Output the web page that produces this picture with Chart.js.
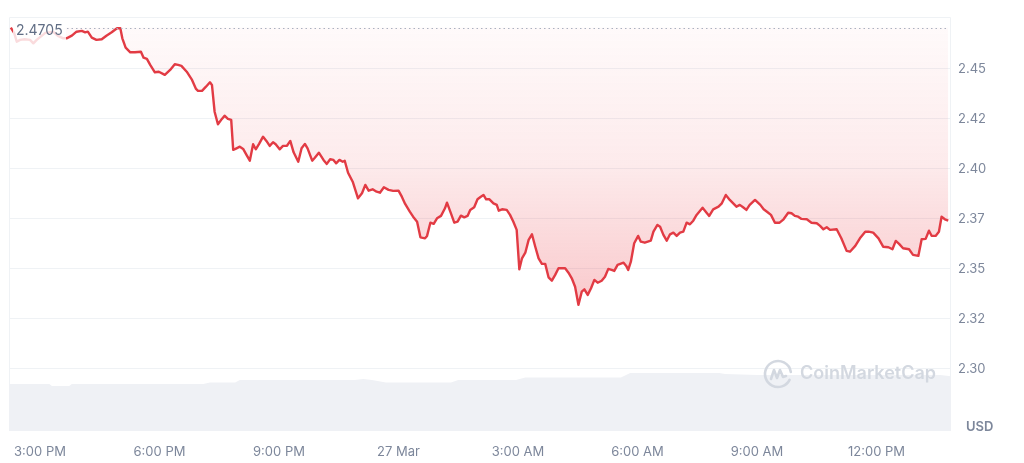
<!DOCTYPE html>
<html>
<head>
<meta charset="utf-8">
<script src="https://cdn.jsdelivr.net/npm/chart.js@4.4.1/dist/chart.umd.min.js"></script>
<style>
  html, body { margin: 0; padding: 0; background: #ffffff; }
  #wrap { width: 1024px; height: 463px; }
</style>
</head>
<body>
<div id="wrap"><canvas id="priceChart" width="1024" height="463"></canvas></div>
<script>
// time is minutes after 3:00 PM on 26 Mar
const priceMinutes = [
    -44, -39, -35, -30, -23, -15, -10, -5, 8, 20, 27, 35, 40,
    48, 55, 63, 68, 72, 78, 85, 93, 100, 108, 116, 121, 124, 129, 136, 143, 152, 156, 161, 166, 173, 179, 188, 196, 203,
    208, 213, 221, 229, 235, 238, 244, 250, 256, 259, 263, 268, 274, 278, 283, 288, 291, 296, 301, 306, 311, 316, 321, 325,
    330, 336, 341, 346, 351, 355, 361, 366, 372, 377, 382, 389, 394, 399, 403, 410, 414, 420, 427, 432, 437, 442,
    446, 451, 456, 459, 464, 471, 479, 485, 490, 495, 501, 507, 512, 518, 525, 532, 540, 545, 550, 557, 562, 568, 573,
    580, 583, 588, 593, 598, 604, 610, 613, 619, 624, 629, 634, 639, 644, 648, 654, 659, 664, 668, 672, 677, 683, 688,
    691, 696, 703, 708, 713, 718, 722, 726, 731, 736, 741, 746, 751, 756, 761, 766, 771, 776, 781, 786, 791, 796, 801,
    806, 811, 816, 820, 825, 830, 835, 840, 846, 851, 856, 861, 865, 870, 879, 883, 886, 890, 895, 901, 905, 911, 920,
    924, 930, 934,
    939, 944, 949, 954, 959, 964, 969, 974, 979, 984, 989, 998, 1004, 1008, 1014, 1022, 1027, 1033, 1039, 1049, 1054,
    1059, 1064, 1069, 1077, 1085, 1090, 1095, 1101, 1107, 1114, 1120, 1127, 1132, 1137, 1142, 1147, 1155,
    1162, 1170, 1175, 1180, 1185, 1190, 1200, 1207, 1215, 1220, 1228, 1235, 1243, 1248, 1255, 1263, 1270, 1278, 1284,
    1289, 1294, 1300, 1309, 1315, 1323, 1328, 1334, 1339, 1343, 1349, 1354, 1358, 1363, 1368
];
const priceValues = [
    2.4705, 2.4679, 2.4635, 2.4644, 2.4647, 2.4644, 2.4627, 2.4644, 2.4679, 2.4684, 2.4664, 2.4652, 2.4652,
    2.4665, 2.4685, 2.4689, 2.4682, 2.4685, 2.4655, 2.4644, 2.4647, 2.4665, 2.4682, 2.4702, 2.4702, 2.4652, 2.4605, 2.4582,
    2.4582, 2.4585, 2.4555, 2.4549, 2.4519, 2.4482, 2.4485, 2.4469, 2.4494, 2.4522,
    2.4519, 2.4514, 2.4485, 2.4444, 2.4399, 2.4389, 2.4389, 2.4410, 2.4432, 2.4419, 2.4285, 2.4222, 2.4249, 2.4265,
    2.4249, 2.4244, 2.4094, 2.4102, 2.4110, 2.4099, 2.4069, 2.4040, 2.4122, 2.4097, 2.4124, 2.4160, 2.4139, 2.4114,
    2.4132, 2.4122, 2.4097, 2.4114, 2.4115, 2.4139, 2.4082, 2.4035, 2.4102, 2.4124, 2.4102, 2.4040, 2.4055, 2.4080,
    2.4044, 2.4024, 2.4047, 2.4044,
    2.4027, 2.4044, 2.4035, 2.4040, 2.3980, 2.3935, 2.3852, 2.3877, 2.3919, 2.3890, 2.3897, 2.3885, 2.3880, 2.3907,
    2.3894, 2.3889, 2.3890, 2.3860, 2.3824, 2.3785, 2.3760, 2.3735, 2.3657, 2.3652, 2.3664, 2.3730, 2.3724, 2.3752,
    2.3764, 2.3802, 2.3830, 2.3777, 2.3730, 2.3735, 2.3765, 2.3757, 2.3764, 2.3794, 2.3807, 2.3847, 2.3860, 2.3869,
    2.3847, 2.3847, 2.3827, 2.3819,
    2.3790, 2.3797, 2.3794, 2.3769, 2.3735, 2.3694, 2.3497, 2.3552, 2.3580, 2.3644, 2.3672, 2.3610, 2.3552, 2.3524,
    2.3524, 2.3457, 2.3440, 2.3469, 2.3502, 2.3502, 2.3502, 2.3480, 2.3452, 2.3410, 2.3319, 2.3385, 2.3397, 2.3369,
    2.3402, 2.3444, 2.3430, 2.3440, 2.3460, 2.3499, 2.3494, 2.3489, 2.3519, 2.3530, 2.3514, 2.3494, 2.3535, 2.3627,
    2.3664, 2.3635, 2.3630, 2.3640, 2.3685, 2.3719, 2.3710,
    2.3669, 2.3640, 2.3672, 2.3680, 2.3664, 2.3680, 2.3685, 2.3730, 2.3722, 2.3740, 2.3769, 2.3805, 2.3780, 2.3764,
    2.3797, 2.3810, 2.3827, 2.3869, 2.3844, 2.3810, 2.3819, 2.3807, 2.3794, 2.3819, 2.3844, 2.3819, 2.3797, 2.3785,
    2.3769, 2.3730, 2.3730, 2.3747, 2.3780, 2.3777, 2.3764, 2.3760, 2.3749, 2.3747,
    2.3730, 2.3727, 2.3714, 2.3697, 2.3707, 2.3694, 2.3697, 2.3652, 2.3589, 2.3585, 2.3614, 2.3652, 2.3685, 2.3685,
    2.3680, 2.3652, 2.3610, 2.3607, 2.3597, 2.3639, 2.3624, 2.3602, 2.3597, 2.3569, 2.3564, 2.3647, 2.3649, 2.3690,
    2.3665, 2.3664, 2.3685, 2.3760, 2.3747, 2.3740
];

// volume (relative units) for the grey band at the bottom
const volumeMinutes = [-47, 14, 18, 44, 48, 246, 256, 294, 301, 474, 487, 500, 521, 619, 630, 717, 731, 875, 889, 1023, 1032, 1081, 1356, 1373];
const volumeValues = [56.8, 56.8, 54.3, 54.3, 56.8, 56.8, 58.7, 58.7, 61.6, 61.6, 62.8, 61.6, 58.7, 58.7, 61.6, 61.6, 64.7, 64.7, 70.0, 70.0, 68.8, 67.6, 67.6, 65.9];

const openPrice = 2.4705;
const xTickMinutes = [0, 180, 360, 540, 720, 900, 1080, 1260];
const xTickLabels = ['3:00 PM', '6:00 PM', '9:00 PM', '27 Mar', '3:00 AM', '6:00 AM', '9:00 AM', '12:00 PM'];
const yTickValues = [2.30, 2.325, 2.35, 2.375, 2.40, 2.425, 2.45];
const yTickLabels = ['2.30', '2.32', '2.35', '2.37', '2.40', '2.42', '2.45'];

const FONT = 'Inter, "Noto Sans", sans-serif';
const priceData = priceMinutes.map((m, i) => ({ x: m, y: priceValues[i] }));
const volumeData = volumeMinutes.map((m, i) => ({ x: m, y: volumeValues[i] }));

function redGradient(context) {
    const area = context.chart.chartArea;
    if (!area) return 'rgba(234,57,67,0.1)';
    const g = context.chart.ctx.createLinearGradient(0, area.top, 0, 310);
    g.addColorStop(0, 'rgba(234,57,67,0.02)');
    g.addColorStop(0.5, 'rgba(234,57,67,0.10)');
    g.addColorStop(1, 'rgba(234,57,67,0.28)');
    return g;
}

// border, open price line + label, watermark, currency
const extras = {
    id: 'extras',
    beforeDatasetsDraw(chart) {
        const { ctx, chartArea: a } = chart;
        ctx.save();
        ctx.strokeStyle = '#eff2f5';
        ctx.lineWidth = 1;
        ctx.beginPath();
        ctx.moveTo(a.left + 0.5, a.bottom);
        ctx.lineTo(a.left + 0.5, a.top + 0.5);
        ctx.lineTo(a.right - 0.5, a.top + 0.5);
        ctx.lineTo(a.right - 0.5, a.bottom);
        ctx.stroke();
        ctx.restore();
    },
    afterDatasetsDraw(chart) {
        const { ctx, chartArea: a } = chart;
        const y = Math.round(chart.scales.y.getPixelForValue(openPrice)) + 0.5;
        ctx.save();
        // dotted open line
        ctx.strokeStyle = '#aab1c0';
        ctx.lineWidth = 1;
        ctx.setLineDash([1.5, 3]);
        ctx.beginPath();
        ctx.moveTo(67, y);
        ctx.lineTo(a.right - 2, y);
        ctx.stroke();
        ctx.setLineDash([]);
        // label box
        ctx.fillStyle = 'rgba(255,255,255,0.82)';
        ctx.fillRect(13, a.top + 1, 53, 30);
        ctx.fillStyle = '#616e85';
        ctx.font = '14px ' + FONT;
        ctx.textBaseline = 'middle';
        ctx.textAlign = 'left';
        ctx.fillText(openPrice.toFixed(4), 16, y + 2);

        // watermark
        const cx = 778, cy = 374;
        ctx.strokeStyle = '#d3d8e0';
        ctx.lineWidth = 2.6;
        ctx.lineCap = 'round';
        ctx.lineJoin = 'round';
        ctx.beginPath();
        ctx.arc(cx, cy, 13, 0.15 * Math.PI, 1.95 * Math.PI);
        ctx.stroke();
        ctx.beginPath();
        ctx.moveTo(cx - 7, cy + 5);
        ctx.lineTo(cx - 4, cy - 4);
        ctx.lineTo(cx - 1, cy + 4);
        ctx.lineTo(cx + 2, cy - 4);
        ctx.lineTo(cx + 5, cy + 3);
        ctx.lineTo(cx + 8, cy + 2);
        ctx.stroke();
        ctx.fillStyle = '#d3d8e0';
        ctx.font = '600 18px ' + FONT;
        ctx.fillText('CoinMarketCap', 800, cy);

        // currency
        ctx.fillStyle = '#7d879b';
        ctx.font = '600 13px ' + FONT;
        ctx.fillText('USD', 966, 427);
        ctx.restore();
    }
};

new Chart(document.getElementById('priceChart'), {
    type: 'line',
    data: {
        datasets: [{
            label: 'Price',
            data: priceData,
            yAxisID: 'y',
            borderColor: '#e23b44',
            borderWidth: 2.4,
            borderJoinStyle: 'round',
            pointRadius: 0,
            tension: 0,
            fill: { value: openPrice },
            backgroundColor: redGradient
        }, {
            label: 'Volume',
            data: volumeData,
            yAxisID: 'y2',
            borderWidth: 0,
            borderColor: 'rgba(0,0,0,0)',
            pointRadius: 0,
            tension: 0,
            fill: 'origin',
            backgroundColor: '#eff1f5'
        }]
    },
    options: {
        responsive: false,
        animation: false,
        layout: { padding: { left: 9, top: 17, right: 0, bottom: 0 } },
        plugins: {
            legend: { display: false },
            tooltip: { enabled: false }
        },
        scales: {
            x: {
                type: 'linear',
                min: -46.7,
                max: 1372.2,
                grid: { display: false, drawTicks: false },
                border: { display: false },
                afterBuildTicks: (scale) => {
                    scale.ticks = xTickMinutes.map(v => ({ value: v }));
                },
                afterFit: (scale) => { scale.height = 32; },
                ticks: {
                    autoSkip: false,
                    maxRotation: 0,
                    padding: 13,
                    color: '#7d879b',
                    font: { family: FONT, size: 13 },
                    callback: (value, index) => xTickLabels[index]
                }
            },
            y: {
                position: 'right',
                min: 2.26885,
                max: 2.47585,
                grid: { color: '#eff2f5', lineWidth: 1, drawTicks: false },
                border: { display: false },
                afterBuildTicks: (scale) => {
                    scale.ticks = yTickValues.map(v => ({ value: v }));
                },
                afterFit: (scale) => { scale.width = 73; },
                ticks: {
                    padding: 7,
                    color: '#7d879b',
                    font: { family: FONT, size: 13 },
                    callback: (value, index) => yTickLabels[index]
                }
            },
            y2: {
                display: false,
                min: 0,
                max: 500
            }
        }
    },
    plugins: [extras]
});
</script>
</body>
</html>
